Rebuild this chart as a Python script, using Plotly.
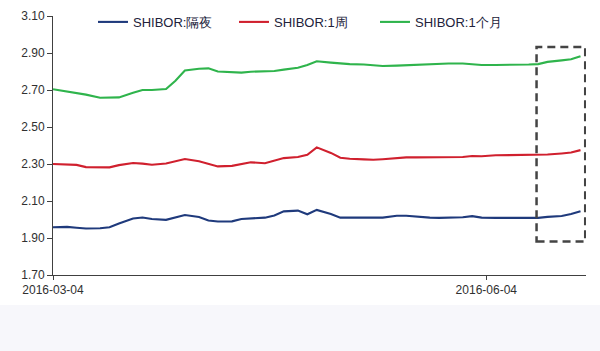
import plotly.graph_objects as go

dates = ["2016-03-04", "2016-03-07", "2016-03-09", "2016-03-11", "2016-03-14", "2016-03-16",
         "2016-03-18", "2016-03-21", "2016-03-23", "2016-03-25", "2016-03-28", "2016-03-30",
         "2016-04-01", "2016-04-04", "2016-04-06", "2016-04-08", "2016-04-11", "2016-04-13",
         "2016-04-15", "2016-04-18", "2016-04-20", "2016-04-22", "2016-04-25", "2016-04-27",
         "2016-04-29", "2016-05-02", "2016-05-04", "2016-05-06", "2016-05-09", "2016-05-11",
         "2016-05-13", "2016-05-16", "2016-05-18", "2016-05-20", "2016-05-23", "2016-05-25",
         "2016-05-27", "2016-05-30", "2016-06-01", "2016-06-03", "2016-06-06", "2016-06-08",
         "2016-06-10", "2016-06-13", "2016-06-15", "2016-06-17", "2016-06-20", "2016-06-22",
         "2016-06-24"]

overnight = [1.958, 1.960, 1.955, 1.951, 1.953, 1.958, 1.978, 2.005, 2.011, 2.003, 1.998, 2.012,
             2.024, 2.014, 1.995, 1.989, 1.990, 2.003, 2.007, 2.010, 2.022, 2.044, 2.048, 2.028,
             2.052, 2.030, 2.010, 2.009, 2.010, 2.010, 2.010, 2.020, 2.020, 2.015, 2.010, 2.009,
             2.009, 2.012, 2.018, 2.010, 2.009, 2.009, 2.009, 2.009, 2.009, 2.014, 2.019, 2.030,
             2.045]

week1 = [2.300, 2.298, 2.295, 2.283, 2.283, 2.282, 2.294, 2.305, 2.302, 2.296, 2.303, 2.313,
         2.327, 2.315, 2.300, 2.287, 2.290, 2.300, 2.309, 2.304, 2.316, 2.332, 2.338, 2.350,
         2.390, 2.360, 2.334, 2.328, 2.325, 2.323, 2.326, 2.333, 2.336, 2.336, 2.336, 2.336,
         2.336, 2.338, 2.343, 2.342, 2.347, 2.348, 2.348, 2.348, 2.348, 2.351, 2.357, 2.362,
         2.375]

month1 = [2.704, 2.692, 2.684, 2.675, 2.658, 2.657, 2.660, 2.685, 2.700, 2.700, 2.705, 2.750,
          2.805, 2.815, 2.817, 2.800, 2.795, 2.794, 2.799, 2.800, 2.803, 2.810, 2.820, 2.835,
          2.855, 2.848, 2.842, 2.840, 2.838, 2.834, 2.830, 2.832, 2.834, 2.836, 2.840, 2.843,
          2.843, 2.843, 2.838, 2.835, 2.835, 2.835, 2.836, 2.838, 2.840, 2.852, 2.860, 2.866,
          2.883]

names = ["SHIBOR:隔夜", "SHIBOR:1周", "SHIBOR:1个月"]
colors = ["#1f3a7c", "#d0202e", "#2fb44c"]
y_ticks = [1.70, 1.90, 2.10, 2.30, 2.50, 2.70, 2.90, 3.10]
x_ticks = ["2016-03-04", "2016-06-04"]

fig = go.Figure()
for name, vals, col in zip(names, [overnight, week1, month1], colors):
    fig.add_trace(go.Scatter(x=dates, y=vals, mode="lines", name=name,
                             line=dict(color=col, width=2.1)))

font = "Liberation Sans, Arial, sans-serif"
fig.update_layout(
    width=600, height=351,
    margin=dict(l=53, r=14, t=16, b=76, autoexpand=False),
    paper_bgcolor="white", plot_bgcolor="white",
    font=dict(family=font, size=12, color="#404040"),
    showlegend=True,
    legend=dict(orientation="h", xref="paper", yref="paper",
                x=0.075, y=0.977, xanchor="left", yanchor="middle",
                font=dict(size=13, color="#22223a"),
                entrywidth=96, entrywidthmode="pixels",
                bgcolor="rgba(0,0,0,0)"),
    xaxis=dict(type="date", range=["2016-03-04", "2016-06-25 04:00"],
               tickvals=x_ticks, ticktext=x_ticks,
               showline=True, linecolor="#404040", linewidth=1,
               ticks="outside", ticklen=4, tickcolor="#404040",
               showgrid=False, zeroline=False,
               tickfont=dict(size=12, color="#303030")),
    yaxis=dict(range=[1.70, 3.10], tickvals=y_ticks,
               ticktext=[f"{v:.2f}" for v in y_ticks],
               showline=True, linecolor="#404040", linewidth=1,
               ticks="outside", ticklen=5, tickcolor="#404040",
               showgrid=False, zeroline=False,
               tickfont=dict(size=12, color="#303030")),
    shapes=[
        dict(type="rect", xref="paper", yref="paper", x0=-0.2, x1=1.1,
             y0=-0.33, y1=-0.116, fillcolor="#f7f7fb", line=dict(width=0),
             layer="below"),
        dict(type="rect", xref="x", yref="y",
             x0="2016-06-14 16:00", x1="2016-06-25 00:00", y0=1.881, y1=2.932,
             line=dict(color="#444444", width=2.5, dash="8px,5px"),
             fillcolor="rgba(0,0,0,0)"),
    ],
)

fig.write_html("out.html")
